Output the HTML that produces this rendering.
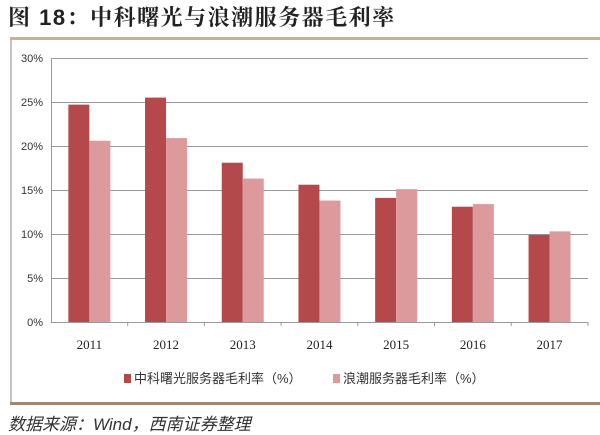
<!DOCTYPE html>
<html><head><meta charset="utf-8"><style>
body{margin:0;background:#fff;width:600px;height:435px;overflow:hidden;position:relative;font-family:"Liberation Sans","Noto Sans CJK SC",sans-serif}
.t{position:absolute;left:8px;top:1px;font-size:22px;font-weight:bold;color:#222;font-family:"Liberation Sans","Noto Serif CJK SC",serif;letter-spacing:1.5px}
.src{position:absolute;left:8px;top:410px;font-size:17px;color:#333;font-style:italic}
</style></head><body>
<div class="t">图 18：中科曙光与浪潮服务器毛利率</div>
<svg width="600" height="435" style="position:absolute;left:0;top:0">
<rect x="10" y="37" width="590" height="3" fill="#c9b199"/>
<line x1="11" y1="40" x2="11" y2="404" stroke="#888" stroke-width="1"/>
<rect x="10" y="402" width="590" height="3" fill="#a08870"/>
<g stroke="#999" stroke-width="1">
<line x1="51" y1="58.5" x2="588" y2="58.5"/><line x1="51" y1="102.5" x2="588" y2="102.5"/>
<line x1="51" y1="146.5" x2="588" y2="146.5"/><line x1="51" y1="190.5" x2="588" y2="190.5"/>
<line x1="51" y1="234.5" x2="588" y2="234.5"/><line x1="51" y1="278.5" x2="588" y2="278.5"/>
</g>
<g font-size="11" fill="#333" text-anchor="end">
<text x="43" y="62">30%</text><text x="43" y="106">25%</text><text x="43" y="150">20%</text><text x="43" y="194">15%</text><text x="43" y="238">10%</text><text x="43" y="282">5%</text><text x="43" y="326">0%</text>
</g>
<g id="bars"></g>
<line x1="51.5" y1="58" x2="51.5" y2="322" stroke="#999"/>
<line x1="51" y1="322.5" x2="588" y2="322.5" stroke="#999"/>
<g font-size="13" fill="#222" text-anchor="middle" font-family="Liberation Serif,serif" id="lab"></g>
<rect x="124" y="374" width="7" height="9" fill="#b5484a"/>
<text x="134" y="383" font-size="13" fill="#333">中科曙光服务器毛利率（%）</text>
<rect x="333" y="374" width="7" height="9" fill="#dc9a9c"/>
<text x="343" y="383" font-size="13" fill="#333">浪潮服务器毛利率（%）</text>
</svg>
<div class="src">数据来源：Wind，西南证券整理</div>
<script>
var r=[24.7,25.5,18.1,15.6,14.1,13.1,9.9],p=[20.6,20.9,16.3,13.8,15.1,13.4,10.3];
var s='',l='';
for(var i=0;i<7;i++){var c=51+76.7*(i+0.5);
var y1=322-r[i]*8.8,y2=322-p[i]*8.8;
s+='<rect x="'+(c-21)+'" y="'+y1+'" width="21" height="'+(322-y1)+'" fill="#b5484a"/>';
s+='<rect x="'+c+'" y="'+y2+'" width="21" height="'+(322-y2)+'" fill="#dc9a9c"/>';
l+='<text x="'+c+'" y="349">'+(2011+i)+'</text>';
s+='<line x1="'+(51+76.7*(i+1))+'" y1="322" x2="'+(51+76.7*(i+1))+'" y2="326" stroke="#999"/>';}
document.getElementById('bars').innerHTML=s;document.getElementById('lab').innerHTML=l;
</script>
</body></html>
